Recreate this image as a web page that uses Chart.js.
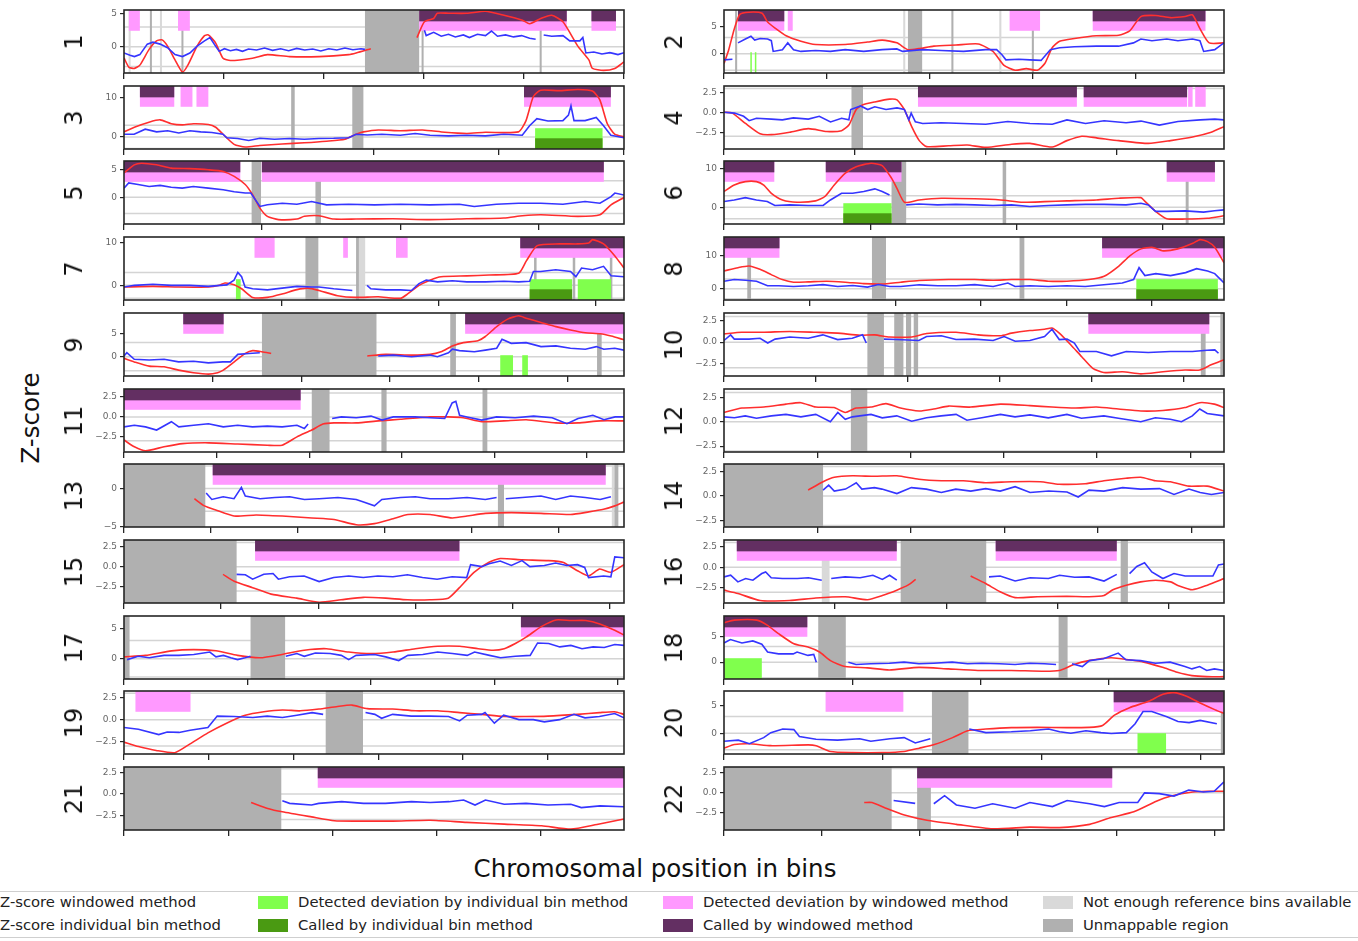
<!DOCTYPE html>
<html lang="en">
<head>
<meta charset="UTF-8" />
<title>Genome-wide Z-scores</title>
<script src="https://cdn.jsdelivr.net/npm/chart.js"></script>
<style>
  body { margin: 0; background: #fff; font-family: "DejaVu Sans", sans-serif; }
  #fig { position: relative; width: 1358px; height: 941px; overflow: hidden; }
  canvas { position: absolute; }
  .chrom { position: absolute; font-size: 24px; color: #111; transform: translate(-50%, -50%) rotate(-90deg); white-space: nowrap; }
  .axis-title { position: absolute; font-size: 24.5px; color: #111; white-space: nowrap; }
  .legend { position: absolute; left: -10px; top: 891px; width: 1370px; height: 45px; border: 1px solid #cfcfcf; }
  .item { position: absolute; font-size: 14.8px; color: #222; white-space: nowrap; }
  .sw { position: absolute; width: 30px; height: 13px; }
</style>
</head>
<body>
<div id="fig">
  <div class="axis-title" style="left:30px;top:418px;transform:translate(-50%,-50%) rotate(-90deg);">Z-score</div>
  <div class="axis-title" style="left:655px;top:868px;transform:translate(-50%,-50%);">Chromosomal position in bins</div>
  <div class="legend"></div>
  <div class="item" style="left:0;top:893px;">Z-score windowed method</div>
  <div class="item" style="left:0;top:916px;">Z-score individual bin method</div>
  <div class="sw" style="left:258px;top:896px;background:#80ff4d;"></div>
  <div class="item" style="left:298px;top:893px;">Detected deviation by individual bin method</div>
  <div class="sw" style="left:258px;top:919px;background:#4a9a12;"></div>
  <div class="item" style="left:298px;top:916px;">Called by individual bin method</div>
  <div class="sw" style="left:663px;top:896px;background:#ff99ff;"></div>
  <div class="item" style="left:703px;top:893px;">Detected deviation by windowed method</div>
  <div class="sw" style="left:663px;top:919px;background:#632f62;"></div>
  <div class="item" style="left:703px;top:916px;">Called by windowed method</div>
  <div class="sw" style="left:1043px;top:896px;background:#d9d9d9;"></div>
  <div class="item" style="left:1083px;top:893px;">Not enough reference bins available</div>
  <div class="sw" style="left:1043px;top:919px;background:#b0b0b0;"></div>
  <div class="item" style="left:1083px;top:916px;">Unmappable region</div>
</div>

<script>
// chromosomes 1..22, lengths in bins
const chromNames = ['1','2','3','4','5','6','7','8','9','10','11','12','13','14','15','16','17','18','19','20','21','22'];
const chromLength = [249,243,198,191,181,171,159,146,141,136,135,134,115,107,103,90,81,78,59,63,48,51];
const tickStep = [50,50,50,50,50,50,50,25,25,25,25,25,20,20,20,20,20,20,10,20,10,10];
const yMin = [-4,-3.5,-3.1,-4.6,-4.9,-4.4,-3.4,-3.4,-4.1,-3.95,-4.4,-3.1,-5.1,-3.15,-4.5,-4.3,-3.35,-3.25,-3.9,-3.75,-4.25,-4.6];
const yMax = [5.6,8,13.1,3.3,6.6,12.1,11.2,15.7,9.3,3.4,3.5,3.35,3.25,3.25,3.3,3.3,7.05,8.9,3.25,7.6,3.2,3.2];
const yTicks = [
  [0,5],[0,5],[0,10],[-2.5,0,2.5],[0,5],[0,10],[0,10],[0,10],[0,5],[-2.5,0,2.5],[-2.5,0,2.5],
  [-2.5,0,2.5],[-5,0],[-2.5,0,2.5],[-2.5,0,2.5],[-2.5,0,2.5],[0,5],[0,5],[-2.5,0,2.5],[0,5],[-2.5,0,2.5],[-2.5,0,2.5]
];

// windowed method z-scores [bin, z]; null = gap
const windowedZ = [
  [[0,-1.7],[2.4,-3.1],[5.2,-3.3],[7.9,-2.8],[12.5,-0.4],[16.2,0.9],[19,1.05],[21.7,0.1],[25.4,-2],[29.1,-3.85],[31.8,-2.8],[36.4,0.1],[40.1,1.7],[42,1.8],[45.6,0.6],[49.3,-1.75],[53,-2.1],[64,-1.75],[71.4,-1.2],[82.4,-1.5],[97.2,-1.5],[111.9,-1.2],[115.6,-0.95],[122.9,-0.3],[130,null],[145.9,1.4],[149.6,3.8],[154.2,4.3],[156,5.1],[161.6,5.1],[170.8,5.1],[180,5.4],[189.2,4.8],[198.4,4.05],[202,3.5],[207.5,4.3],[213,4.8],[218.6,3.8],[226,0.1],[231.5,-2],[233.3,-3.3],[238.8,-3.6],[244.4,-3.3],[249,-2.3]],
  [[0,-1.77],[2.3,0.76],[5,4.55],[7.7,7.2],[12.2,7.6],[18.5,7.4],[21.2,5.8],[24.8,4.7],[30.2,3.3],[37.4,2.3],[44.5,1.7],[58.9,1.7],[69.7,2.15],[76.9,2.5],[84,2],[89.4,0.76],[94.8,0.95],[102,1.4],[112.8,1.6],[123.6,1.8],[130.7,0.44],[136.1,-2.1],[141.5,-3],[146.9,-2.7],[152.3,-3],[155.9,-1.77],[159.5,1.1],[163.1,2.3],[170.3,2.8],[181,3.3],[191.8,3.4],[197.2,4.2],[202.6,6.8],[209.8,7],[217,6.6],[224.1,6.8],[227.7,7.1],[231.3,4.6],[235.8,2],[243,2]],
  [[0,1.3],[4.1,2.5],[9.9,3.8],[14.3,4.4],[18.7,3.4],[23.1,3.1],[27.5,3.4],[33.4,3.2],[36.3,2.5],[39.2,0.7],[43.6,-1.9],[48,-2.6],[53.8,-2.2],[62.6,-1.8],[71.4,-1.5],[80.2,-1.1],[87.5,-0.6],[91.9,0.7],[94.8,1.3],[100.7,1.8],[109.4,1.6],[118.2,1.8],[127,1.2],[135.8,0.9],[143.1,1.2],[156.2,1.3],[159.2,4.2],[162.1,10.4],[165,12],[172.3,11.9],[179.7,12.2],[185.5,11.8],[188.4,9.6],[191.4,3.4],[194.3,0.7],[198,0]],
  [[0,0],[3.2,-0.1],[8.2,-1.4],[13.8,-2.7],[18.1,-2.8],[25.1,-2.5],[32.2,-2.05],[39.3,-2.4],[44.9,-2.3],[47.7,-1.6],[50.5,0.35],[52.7,0.9],[57.6,1.3],[63.3,1.65],[66.1,1.55],[68.9,0.35],[71.7,-1.8],[74.6,-3.55],[77.4,-4.3],[85.8,-4.2],[92.9,-4.1],[100,-4.4],[109.9,-4],[116.9,-3.9],[125.4,-4.35],[131,-3.55],[136.7,-3],[142.3,-3.2],[150.8,-3.55],[162.1,-3.9],[170.6,-3.55],[179,-3.1],[186.1,-2.5],[191,-1.8]],
  [[0,4.4],[3.7,5.9],[6.4,6.2],[11.8,5.9],[17.1,5.3],[23.8,5.2],[30.5,5],[35.9,4.7],[39.9,3.8],[43.9,2.3],[46.6,0.4],[49.2,-2],[51.9,-3.5],[55.9,-4.1],[62.6,-4],[65.3,-3.5],[70.6,-3.4],[76,-4],[84,-4],[97.3,-3.95],[110.7,-4.1],[124.1,-3.95],[137.5,-3.8],[144.2,-3.4],[150.9,-3.2],[164.3,-3.5],[172.3,-3.2],[176.3,-1.4],[181,-0.06]],
  [[0,4.1],[3.5,5.8],[7.3,6.7],[11.1,6.7],[13.6,5.8],[16.2,3.65],[20,1.9],[25,1.3],[31.3,1.65],[34.5,2.8],[37.7,5.8],[41.5,8.9],[45.2,10.6],[50.3,11.5],[54.1,10.9],[57.3,7.6],[59.1,5],[61.7,1.3],[66.7,1.9],[74.3,2.35],[85.7,2.2],[94.6,1.9],[102.2,1.3],[109.7,1.45],[117.3,1.65],[127.4,1.9],[135,2.35],[142.6,2.5],[143.8,1.65],[147.6,-1.1],[151.4,-3],[157.7,-3.1],[165.3,-2.9],[171,-2.25]],
  [[0,-0.4],[9.2,-0.25],[17.4,-0.4],[26.8,-0.4],[30.3,0],[32.1,0.55],[35,0.15],[37.4,-0.8],[40.9,-2.8],[45.6,-2.8],[50.3,-2],[55,-1],[58.5,-0.65],[62,-1.2],[67.9,-2.4],[73.8,-2.8],[80.8,-2.65],[87.9,-3],[90.2,-2],[93.8,0],[97.3,1.2],[100.8,2],[109,2.2],[116.1,2.4],[125.5,2.8],[127.9,5.6],[131.4,9.2],[138.5,9.6],[144.3,9.6],[147.8,9.8],[149,10.6],[152.5,9.6],[156.1,6.8],[159,4]],
  [[0,5.4],[4.1,6.4],[7.3,6.9],[10.5,5.9],[13.8,4.3],[17,2.8],[20.3,2],[24.6,2.1],[30,2.3],[35.4,2],[40.8,1.55],[46.2,1.45],[51.6,2],[57,2.5],[65.6,2.8],[73.2,2.8],[78.6,2.6],[84,2.8],[89.3,2.8],[94.7,2.3],[100.1,2.3],[106.6,2.8],[111,3.8],[115.3,6.9],[118.5,10],[121.8,12.1],[125,12.6],[128.2,11.5],[132.5,12.1],[136.9,13.8],[139,14.9],[141.2,14.3],[143.3,12.6],[146,7.9]],
  [[0,-0.35],[2.9,-1.1],[7.1,-2],[11.3,-2.15],[15.4,-2.85],[19.6,-3.4],[23.8,-3.7],[26.4,-3.4],[28,-2.85],[31.1,-1.1],[34.2,0.7],[36.3,1.3],[38.9,1.05],[41.5,0.7],[42,null],[68.6,0.15],[73.8,0.5],[81.1,0.35],[86.3,0.5],[89.4,1.05],[92.6,2.3],[95.7,3],[99.8,3.4],[101.9,4.3],[105.1,6.4],[108.2,8],[111.3,8.7],[113.4,8.2],[117.6,7.3],[121.8,6.4],[125.9,5.7],[130.1,5.1],[134.3,4.9],[137.4,4.4],[141,3.6]],
  [[0,0.95],[4.8,1.15],[10.9,1.15],[17.9,1.25],[24.9,1.15],[30.9,1.05],[37,0.8],[41,0.85],[45,0.6],[51.1,0.6],[55.1,1],[63.1,1.15],[69.1,0.85],[75.2,0.75],[78.2,1.05],[83.2,1.35],[87.2,1.5],[89.2,1.65],[91.2,1.05],[94.3,-0.3],[97.3,-1.7],[100.3,-3.05],[103.3,-3.55],[108.4,-3.45],[113.4,-3.7],[119.4,-3.45],[125.4,-3.25],[129.4,-3.25],[132.5,-2.65],[136,-2.05]],
  [[0,-2.9],[2.8,-3.75],[5.8,-4.25],[10.8,-3.75],[15.8,-3.35],[22.8,-3.25],[30.7,-3.4],[38.7,-3.55],[42.7,-3.55],[46.7,-2.5],[50.7,-1.65],[53.7,-0.9],[56.7,-0.75],[62.7,-0.75],[68.7,-0.5],[74.6,-0.3],[82.6,0],[87.6,0],[91.6,-0.1],[96.6,-0.6],[102.6,-0.5],[108.6,-0.35],[116.6,-0.75],[122.6,-0.75],[128.6,-0.5],[135,-0.5]],
  [[0,0.95],[4.8,1.4],[10.7,1.5],[16.6,1.8],[20.6,1.95],[24.6,1.5],[29.5,1.45],[32.5,0.95],[35.4,1.4],[39.4,1.5],[43.4,1.85],[47.3,1.4],[52.3,1.1],[56.2,1.3],[60.2,1.6],[66.1,1.5],[74.1,1.8],[82,1.65],[87.9,1.5],[93.9,1.4],[99.8,1.5],[105.7,1.3],[111.7,1.1],[117.6,1.15],[123.5,1.45],[127.5,1.95],[131.4,1.8],[134,1.45]],
  [[16.2,-1.35],[18.5,-2.3],[21.1,-2.85],[25.3,-3.65],[30.4,-3.5],[36.4,-3.65],[43.2,-3.9],[48.3,-4.1],[53.4,-4.8],[57.6,-4.65],[61.9,-4],[65.3,-3.45],[70.4,-3.45],[75.5,-3.9],[78.9,-3.65],[83.1,-3.3],[89.1,-3.2],[95.9,-3.3],[102.7,-3.45],[106.9,-3.1],[110.3,-2.75],[112.9,-2.3],[115,-1.8]],
  [[18,0.6],[21.2,1.45],[23.6,1.9],[27.5,2.05],[32.2,2],[37,2.05],[41.7,1.7],[46.5,1.55],[51.2,1.55],[55.9,1.35],[61.5,1.45],[67.7,1.45],[71.7,1.2],[77.3,1.25],[81.3,1.55],[86,1.8],[89.2,1.9],[92.3,1.55],[95.5,1.45],[99.5,1],[103.4,1],[107,0.5]],
  [[20.4,-0.95],[22.7,-1.8],[26.5,-2.6],[30.3,-3.4],[35.6,-3.9],[40.2,-4.4],[44.7,-4.1],[49.3,-3.8],[53.9,-3.9],[58.4,-4.1],[63,-4.1],[66.8,-3.9],[69.1,-2.6],[72.1,-0.7],[75.2,0.55],[77.5,1],[82,0.85],[87.4,0.75],[90.4,0.55],[93.4,-0.5],[95.7,-1.15],[98,-0.3],[100.3,-0.7],[103,0.25]],
  [[0,-2.75],[2.5,-3.15],[6.5,-4],[11.8,-4],[16.5,-3.7],[21.8,-3.55],[25.8,-3.9],[28.5,-3.4],[31.1,-2.75],[33.1,-2.15],[34.5,-1.45],[35,null],[44.4,-1.05],[47.1,-1.95],[49.7,-2.95],[52.4,-3.65],[56.4,-3.55],[61.7,-3.5],[65.7,-3.55],[68.4,-3.4],[70,-2.7],[72.4,-2.15],[75,-1.75],[77.7,-1.55],[80.4,-1.75],[81.6,-2.15],[84.3,-2.7],[87,-2.15],[90,-1.35]],
  [[0,0.3],[3.5,0.55],[7.7,1.3],[11.3,1.5],[14.9,1.3],[18.4,0.55],[22,0.15],[25.6,0.7],[29.2,1.4],[32.8,1.65],[36.4,1.1],[40,0.85],[43.6,1.1],[47.2,1.65],[50.8,2.05],[54.4,2.05],[57.4,1.65],[59.8,1.4],[61.6,1.65],[63.4,2.5],[65.2,3.6],[67.6,5.3],[70,6.4],[72.4,6.3],[74.8,6.3],[77.2,5.7],[79.5,4.7],[81,3.9]],
  [[0,7.6],[1.6,8.1],[5.1,8.1],[6.8,7.1],[8.5,5.5],[10.9,3.55],[13.1,2.9],[14.9,1.95],[16.6,0.3],[18.9,-0.85],[22.4,-1.1],[25.8,-1.5],[30.4,-1],[35,-1.3],[39.6,-1.6],[44.8,-1.6],[50,-1.75],[52.3,-1.6],[54.6,-0.45],[56.9,0.3],[60.4,0.85],[63.2,0.45],[65.5,0],[68.4,-1],[70.7,-1.95],[73,-2.6],[75.3,-2.8],[78,-2.8]],
  [[0,-2.55],[1.7,-3.05],[3.8,-3.5],[6,-3.75],[7.8,-2.75],[9.9,-1.5],[12.1,-0.4],[14.3,0.5],[16.5,0.9],[18.7,1.1],[20.8,1],[23,1.2],[25.2,1.5],[26.9,1.65],[28.7,1.25],[31.7,1.2],[34.4,1],[37,1],[39.6,0.8],[42.2,0.6],[44.8,0.35],[47.4,0.35],[50,0.4],[53.5,0.6],[56.1,0.8],[57.9,0.9],[59,0.6]],
  [[0,-2.7],[1.3,-2.05],[3.2,-1.9],[5.9,-2.25],[10.6,-2.1],[11.6,-2.25],[13.4,-3.3],[16.2,-3.5],[19.9,-3.5],[22.7,-3.3],[24.6,-2.7],[26.5,-2.05],[28.8,-0.8],[30.7,0.45],[33,0.75],[36.2,1],[39.5,1.05],[43.2,1],[46,1.05],[47.7,1.4],[49.2,3.25],[51.1,4.6],[53.5,5.75],[55.3,7],[56.7,7.3],[58.2,6.7],[60,5.45],[61.9,4.2],[63,3.55]],
  [[12.2,-1],[13.8,-1.7],[15.2,-2.1],[18,-2.7],[20.2,-3.15],[22.3,-3.2],[25.8,-3.2],[29.4,-3.1],[32.9,-3.35],[36.5,-3.55],[40.1,-3.75],[42.9,-4.15],[45.4,-3.6],[48,-2.95]],
  [[14.3,-1.2],[15.1,-1.2],[16.5,-1.9],[18.4,-2.75],[20.7,-3.4],[23.7,-3.9],[27.4,-4.45],[31.2,-4.25],[34.2,-4.3],[37.3,-3.9],[39.5,-3.05],[41.8,-2.35],[44.1,-1.05],[45.6,-0.4],[47.8,0.1],[49.3,0.2],[51,0.2]]
];

// individual bin method z-scores [bin, z]
const binZ = [
  [[0,-0.95],[3,-1.3],[5.2,-1.5],[7.9,-1.2],[11.6,0.4],[14.4,0.7],[18,0.4],[21.7,-0.15],[25.4,-1.2],[29.1,-1.5],[32.8,-0.95],[36.4,0.1],[40.1,0.9],[42.8,1.4],[45.6,0.1],[47.4,-0.7],[50,-0.3],[53,-0.6],[56,-0.4],[59,-0.7],[62,-0.35],[66,-0.5],[70,-0.2],[74,-0.55],[78,-0.3],[82,-0.6],[86,-0.25],[90,-0.5],[94,-0.35],[98,-0.65],[102,-0.3],[106,-0.5],[110,-0.2],[114,-0.45],[118,-0.3],[120,-0.4],[121,null],[149.6,2.5],[150.5,1.7],[154.2,2.2],[158,1.6],[161.6,1.9],[165,1.5],[169,1.8],[172,1.4],[176,1.9],[180,1.7],[183,2.4],[186,1.6],[190,1.8],[194,1.5],[198,1.7],[202,1.3],[205,1.15],[206,null],[209,1.8],[213,1.6],[218.6,1.7],[222,0.9],[227,0.9],[228.5,1.4],[230,-0.95],[234,-0.8],[238,-1.1],[242,-0.9],[246,-1.2],[249,-0.9]],
  [[0,-1.1],[4.1,-1],[4.6,null],[6.8,2],[10.4,2.7],[13.1,3.2],[14.9,2.5],[17.6,2.8],[21.2,2.7],[23,2.4],[23.9,0.44],[28.4,0.76],[31,2],[33.8,0.76],[37.4,0.44],[44.5,0.6],[51.7,0.44],[58.9,0.76],[67.9,0.44],[76.9,0.76],[84,0.9],[86.8,0.44],[96.5,0.76],[105.6,0.6],[116.4,0.44],[127.2,0.76],[132.5,0.76],[135.2,-0.2],[137,-1.1],[143.3,-1],[148.7,-1.1],[154.1,-1.2],[158.6,0.76],[163.1,1.1],[170.3,1.3],[181,1.4],[191.8,1.4],[199,2],[202.6,2.7],[208,2.4],[215.2,2.7],[220.6,2.4],[227.7,2.7],[231.3,2.4],[233.1,0.44],[238.5,0.76],[243,2]],
  [[0,0.7],[4,0.7],[8.4,2],[12.9,1.3],[17.3,1.6],[21.7,1],[26.1,1.6],[30.4,1.3],[34.8,1.15],[39.2,0.7],[40.7,-0.2],[45,-0.4],[49.4,-0.9],[53.8,-0.35],[59.6,-0.6],[65.5,-0.4],[71.4,-0.6],[77.2,-0.4],[83,-0.35],[89,-0.2],[91.9,0.7],[96.3,0.5],[102.1,0.7],[109.4,0.45],[115.3,0.9],[121.2,0.45],[128.5,0.27],[135.8,0.45],[143.1,0.27],[150.4,0.7],[157.7,0.45],[160.6,2.9],[163.5,4.7],[167.9,4.1],[173.8,4.2],[176,5.6],[177,8],[178.2,4.2],[182.6,4.2],[187,5],[189.9,2.9],[192.8,0.45],[198,-0.2]],
  [[0,0],[4,-0.1],[7.5,-0.5],[9.6,-1.05],[12.4,-0.75],[18.1,-0.85],[22.3,-0.95],[26.5,-0.7],[32.2,-0.85],[36.4,-0.5],[40.7,-1.2],[44.9,-0.75],[47.7,-0.95],[48.4,0.35],[52.2,0.8],[54.9,0.35],[57.6,0.7],[61.9,0.35],[66.1,0.55],[68.9,0.35],[70.6,-0.95],[71.5,-0.1],[73.1,-1.2],[75.9,-1.4],[83,-1.3],[91.5,-1.4],[100,-1.5],[108.4,-1.15],[116.9,-1.4],[125.4,-1.5],[131,-0.95],[138.1,-1.4],[145.2,-1.05],[153.6,-1.3],[159.3,-1.1],[166.3,-1.6],[173.4,-1.15],[181.9,-0.95],[187.5,-0.85],[191,-0.95]],
  [[0,1.65],[1.7,2.6],[5.1,2.3],[9.1,1.95],[13.1,2.15],[17.1,1.8],[21.1,1.65],[25.1,1.95],[30.5,1.65],[35.9,1.35],[39.9,1],[43.9,0.75],[45.9,0.75],[49.2,-1.7],[51.9,-1.4],[57.3,-1.1],[62.6,-1.3],[67.9,-0.8],[73.3,-1.4],[81.3,-1.3],[90.7,-1.4],[100,-1.3],[110.7,-1.4],[121.4,-1.3],[126.8,-1.7],[134.8,-1.3],[142.8,-1.1],[150.9,-1.1],[158.9,-1.3],[166.9,-0.8],[172.3,-1.1],[176.3,0.1],[177.7,0.75],[181,0.4]],
  [[0,1.5],[3.5,1.9],[7.3,2.5],[11.1,1.9],[14.8,1.5],[17.4,0.45],[22.5,0.6],[28.8,0.45],[33.9,0.45],[36.4,1.9],[40.2,3.65],[44,3.65],[47.8,4.1],[51.6,4.8],[54.1,4.1],[56.6,3.2],[57.5,null],[62.3,0.6],[66.7,0.85],[73,0.6],[79.3,0.75],[85.7,0.6],[92,0.45],[98.3,0.6],[104.6,0.2],[111,0.45],[117.3,0.6],[123.6,0.75],[130,0.75],[137.5,0.6],[142.6,1.05],[145.1,0.6],[147.6,-1.1],[151.4,-1.1],[157.7,-0.95],[164,-1.3],[167.8,-0.95],[171,-0.7]],
  [[0,-0.4],[3.3,0],[9.2,0.25],[15,0],[20.9,0],[26.8,-0.25],[32.7,0.1],[35,1.2],[36.2,3],[37.4,2],[38.5,-0.4],[40.9,-0.8],[45.6,-1.05],[50.3,-0.65],[55,-0.25],[59.7,-0.4],[62,-0.4],[66.7,-0.8],[72.6,-1.2],[73.5,null],[77.3,0],[78.5,-0.8],[83.2,-1.05],[87.9,-1.05],[91.4,-1.2],[93.8,0.4],[96.1,1.2],[99.7,0.8],[104.4,1.05],[109,0.8],[115,0.8],[120.8,0.95],[125.5,0.8],[129,0.95],[130.2,3.2],[132.5,3.2],[137.3,3.6],[142,3.2],[143.7,2],[145.5,4],[149,3.6],[152.5,4.4],[154.9,2.2],[159,2]],
  [[0,2.3],[3,2.8],[6.3,2.6],[9.5,2.3],[12.7,0.9],[16,0.9],[20.3,0.7],[24.6,0.9],[28.9,1.25],[33.2,0.7],[37.6,1],[41.9,0.5],[45.1,1.3],[48.4,0.7],[51.6,0.7],[57,1.2],[62.4,0.9],[67.8,0.9],[73.2,1.25],[78.6,0.7],[82.9,1.75],[85,0.7],[89.3,0.9],[94.7,0.7],[100.1,0.9],[105.5,0.7],[110.9,1.2],[116.3,1.75],[119.6,2.8],[121.2,6.4],[122.9,4],[126.1,4.6],[130.4,4],[134.8,4.9],[138,6.1],[141.2,5.4],[143.3,4.6],[146,1.75]],
  [[0,0.15],[0.8,0.85],[2.9,-0.55],[7.1,-0.7],[11.3,-0.55],[15.4,-1.1],[19.6,-0.95],[23.8,-1.3],[27.9,-1.1],[30,-1.1],[32.1,0.5],[35.2,0.7],[38.3,0.85],[38.9,null],[71.7,0.15],[75.9,0.35],[81.1,0],[86.3,0.35],[88.4,0],[91.5,0.85],[92.6,1.6],[94.6,1.3],[98.8,1.05],[101.9,1.4],[105.1,1.8],[106.6,3.7],[109.2,2.85],[113.4,3],[117.6,2.15],[121.8,2.3],[125.9,1.8],[130.1,1.6],[133.2,2.15],[135.3,1.6],[138.4,1.8],[141,1.4]],
  [[0,0.2],[1.8,0.85],[2.8,0.35],[6.8,0.35],[9.8,0.45],[11.9,-0.1],[13.9,0.35],[17.9,0.6],[22.9,0.45],[26.9,0.85],[30.9,0.3],[34.9,0.45],[37.7,0.85],[38.7,-0.1],[39,null],[43.5,0.35],[47,0.3],[53,0.2],[55.1,0.65],[59.1,0.75],[63.1,0.3],[68.1,0.35],[73.2,0.2],[76.2,0.65],[79.2,0.1],[83.2,0.2],[87.2,0.65],[89.2,1.5],[91.2,0.3],[93.3,0.35],[95.3,-0.1],[96.8,-1.1],[101.3,-1.1],[105.4,-1.6],[109.4,-1.1],[115.4,-1.2],[121.4,-1.1],[127.4,-1.1],[131.4,-0.95],[133.5,-0.9],[134.5,-1.3]],
  [[0,-1.25],[2.8,-1.05],[5.8,-1.25],[8.8,-1.65],[12.8,-0.6],[14.8,-1.25],[18.8,-1.05],[22.8,-0.85],[26.8,-1.25],[30.7,-1.05],[34.7,-1.25],[38.7,-1.15],[42.7,-1.25],[46.7,-1.05],[48.7,-1.45],[49.7,-0.9],[50.5,null],[56.2,-0.2],[58.7,0],[62.7,-0.1],[66.7,0.1],[69.7,-0.4],[72.7,0],[78.6,0],[82.6,-0.1],[86.6,-0.2],[88.6,1.75],[89.6,1.95],[90.6,0.2],[92.6,0],[96.6,-0.4],[100.6,0],[105.6,-0.1],[110.6,0.1],[115.6,-0.1],[119.6,-0.85],[122.6,-0.2],[126.6,0.2],[129.6,-0.35],[132.6,0],[135,0]],
  [[0,0.5],[2.8,0.4],[5.7,0.6],[8.7,0.35],[12.7,0.6],[16.6,0.75],[20.6,0.5],[24.6,0.75],[28.5,0],[30.5,0.95],[32.5,0.25],[34.4,0.5],[39.4,0.75],[42.4,0.4],[46.3,0.6],[50.3,0.05],[54.3,0.4],[58.2,0.6],[62.2,0.75],[65.1,0.15],[69.1,0.4],[74.1,0.75],[78,0.5],[82,0.7],[86.9,0.4],[91.9,0.75],[95.8,0.35],[101.8,0.6],[105.7,0.35],[111.7,0],[115.6,0.4],[119.6,0.25],[122.6,0],[125.5,0.6],[127.5,1.3],[129.5,0.85],[134,0.6]],
  [[18.9,-0.6],[20.2,-1.45],[22.8,-1.1],[25.3,-1.35],[27,0.15],[27.9,-1],[31.3,-1.35],[34.7,-1.2],[38.1,-1.1],[41.5,-1.45],[44.9,-1.35],[49.2,-1.2],[53.4,-1.45],[55.1,-1.8],[57.6,-2.3],[59.3,-1.45],[63.6,-1.2],[67,-1.1],[70.4,-1.35],[74.6,-1.35],[78.9,-1.2],[83.1,-1.45],[85.7,-1.2],[86.5,null],[87.8,-1.35],[91.6,-1.2],[95.9,-1],[99.3,-1.45],[102.7,-1],[106.1,-1.2],[109.5,-1.45],[112,-1.1]],
  [[21.2,0.6],[22.4,1.1],[23.6,0.5],[26,0.7],[27.1,1],[28.3,1.35],[29.5,0.7],[32.2,0.85],[33.8,0.7],[37,0.25],[40.1,0.85],[43.3,0.7],[46.5,0.35],[49.6,0.7],[52.8,0.5],[56,0.75],[59.1,0.5],[62.3,0.95],[65.5,0.35],[69.5,0.5],[73.4,0.4],[75.8,-0.1],[78.1,0.6],[81.3,0.5],[85.3,0.85],[89.2,0.7],[93.2,0.75],[96.3,0.15],[99.5,0.7],[101.9,0.35],[104.3,0.15],[107,0.35]],
  [[23.2,-0.95],[25,-1],[26.5,-1.55],[28.8,-0.95],[30.7,-0.85],[31.8,-1.55],[34.1,-1.25],[37.1,-1.15],[40.2,-1.85],[43.2,-1.35],[46.3,-1.15],[49.3,-1.35],[52.3,-1.15],[55.4,-1.25],[58.4,-1],[61.5,-1.35],[64.5,-1.55],[67.6,-1.25],[70.6,-1.35],[71.4,0.25],[73.7,0],[75.2,0.35],[77.5,0.7],[79.8,0.15],[82,0.75],[83.6,0],[86.6,0.15],[88.9,0.45],[91.2,0.15],[93.4,0.25],[94.9,-0.1],[95.7,-1.35],[98.8,-1.15],[100.3,-1.25],[101.1,1.2],[103,1.1]],
  [[0,-1.15],[1.2,-0.95],[2.5,-1.75],[3.9,-1.35],[5.2,-1.55],[6.8,-0.75],[7.5,-0.55],[8.5,-1.25],[10.5,-1.35],[13.2,-1.35],[15.2,-1.25],[17.6,-1.55],[18,null],[19.3,-1.35],[21.8,-1.15],[24.5,-1.25],[26.8,-0.95],[28.5,-1.45],[29.8,-0.95],[31.1,-1.55],[31.5,null],[47.7,-1.15],[49.7,-1.05],[52.4,-1.65],[55.1,-1.25],[58.4,-1.35],[60.4,-0.95],[63.1,-1.2],[65.7,-1.15],[68.4,-1.65],[70.7,-0.85],[71,null],[73,-0.75],[74.3,0.1],[75.7,0.55],[77,-0.55],[79,-1.35],[81,-0.75],[83,-1.05],[85.7,-1.05],[88,-1.05],[89,0.3],[90,0.4]],
  [[0.5,-0.15],[2.3,0.4],[4.1,0.15],[6.5,0.55],[8.9,0.55],[11.3,0.7],[13.9,1.1],[14.9,0.3],[16.1,0.55],[17.3,0.15],[18.4,-0.15],[19.6,0.15],[20.5,0.4],[20.6,null],[26.2,0.4],[28,0.85],[29.2,0.4],[31,0.95],[33.4,0.85],[35.2,0.55],[36.4,-0.15],[37.6,0.55],[40.6,0.7],[42.4,0.3],[44.5,-0.3],[46,0.55],[48.4,0.7],[50.8,1.1],[53.2,0.85],[55.6,0.55],[56.8,1.1],[59.2,0.55],[61,0.15],[63.4,0.4],[65.8,0.55],[67,2.6],[68.8,2.5],[70.6,1.95],[72.4,2.2],[74.2,1.65],[76,1.95],[77.8,1.85],[79.5,2.35],[81,2.2]],
  [[0,3.7],[1,4.35],[2.8,3.7],[4.5,4.1],[5.9,3.45],[6.8,1.95],[8.5,1.6],[10.8,1.6],[11.4,1.95],[13.1,1.3],[14,1.5],[14.4,0],[14.5,null],[19.4,0],[20.6,-0.45],[22.9,-0.3],[25.8,-0.2],[28.1,0],[30.4,-0.3],[32.7,-0.2],[35.6,0],[38,-0.3],[40.2,-0.2],[43,-0.3],[45.4,-0.45],[47.7,-0.2],[50,-0.3],[51.8,-0.45],[52,null],[54.3,-0.3],[55.9,-0.85],[57,0.3],[59.2,0.65],[61.5,1.75],[62.7,0.45],[65,0.3],[67.3,-0.2],[69.6,0],[71.9,-0.85],[73,-1.3],[74.2,-0.85],[75.3,-1.6],[76.5,-1.3],[78,-1.6]],
  [[0,-0.9],[1.7,-1.1],[4.1,-1.7],[5.1,-1.4],[6.5,-1.45],[7.8,-1.2],[9.9,-0.9],[11,0.4],[13,0.35],[15.2,0.25],[16.9,0.4],[18.7,0.25],[20.4,0.5],[22.2,0.8],[23.5,0.6],[23.8,null],[28.5,0.8],[29.6,0.6],[30.4,0.15],[31.7,0.6],[33.9,0.4],[36.1,0.4],[38.3,0.35],[39.6,-0.15],[40.5,0.5],[42.2,0.6],[42.6,0.8],[43.7,-0.4],[44.8,0.5],[46.6,0],[48.3,0],[49.6,-0.25],[51.4,0],[53.1,0.6],[54.4,0.2],[56.1,0.35],[57.9,0.7],[59,0.2]],
  [[0,-1.45],[1.8,-1.25],[3.2,-1.9],[5,-0.8],[5.9,0.1],[7.4,0.75],[8.8,0.65],[9.5,-0.6],[11.6,-1.1],[14.3,-1.25],[17.1,-1],[18.5,-1.45],[20.9,-1],[22.7,-0.8],[24.1,-1.75],[26,-1],[26.2,null],[30.9,0.75],[33,0.1],[36.2,0.25],[38.6,0.45],[40.9,0.75],[42.3,0.25],[43.7,0],[45.6,0.45],[47.5,0.1],[48.8,-0.05],[50.7,0.1],[51.8,1.7],[52.8,3.9],[53.9,3.9],[55.8,2.95],[57.2,2.1],[58.6,1.9],[60,2.3],[62.1,1.7]],
  [[15.2,-0.8],[15.9,-1.1],[18,-1.3],[18.7,-1.1],[20.9,-0.9],[23,-1.1],[25.1,-1.1],[27.6,-0.9],[29.4,-1],[31.2,-0.9],[32.6,-0.7],[33.7,-1.3],[34.7,-0.7],[36.5,-1.2],[38.6,-1.1],[40.7,-1.3],[42.9,-1.2],[43.9,-1.6],[45.7,-1.4],[48,-1.5]],
  [[17.3,-0.95],[19.5,-1.3],[19.6,null],[21.4,-1.35],[22.5,-0.35],[23.7,-1.5],[25.6,-1.9],[27.4,-1.35],[29.7,-1.9],[31.2,-1.2],[33.5,-1.7],[35,-0.95],[37.3,-1.35],[38.8,-1.7],[40.3,-1.2],[42.2,-1.2],[42.9,0],[44.4,-0.1],[45.9,-0.4],[47.4,0.35],[48.9,0.1],[50,0.2],[51,1.35]]
];

// shaded bin ranges [start, end]
const unmappable = [
  [[12.9,13.9],[28.6,29.6],[120,147],[148.2,149.2],[207,208]],
  [[5.4,6.4],[89.4,96.3],[110.5,111.5],[149.6,150.6]],
  [[66.2,67.6],[90.4,94.8]],
  [[48.7,53.1]],
  [[46.2,49.6],[69.3,71.3]],
  [[57.3,62.3],[95.3,96.5],[157.9,158.9]],
  [[57.7,61.8],[73.8,74.7],[130.4,131.2],[142.7,143.5],[154.5,155.3]],
  [[6.8,7.9],[43.2,47.3],[86.3,87.7]],
  [[38.9,71.2],[92,93.6],[133.4,134.7]],
  [[39,43.5],[46.3,48.8],[49.5,50.9],[51.6,52.8],[129.7,131],[135,136]],
  [[50.7,55.5],[69.5,70.9],[96.8,98.1]],
  [[34,38.4]],
  [[0,18.7],[86,87.4],[112.8,113.7]],
  [[0,21.2]],
  [[0,23.2]],
  [[31.8,47.2],[71.4,72.7]],
  [[0,0.9],[20.5,26.1]],
  [[14.7,19],[52.2,53.6]],
  [[23.8,28.2]],
  [[26.2,30.8],[62.6,63]],
  [[0,15.1]],
  [[0,17.1],[19.7,21.1]]
];
const lowRef = [
  [[2.3,3.3],[17.9,18.9]],[[87.1,88.1],[133.8,134.8]],[],[],[],[],[[74.7,76.7]],[],[],[],[],
  [],[[112.2,112.8]],[],[],[[17.6,19]],[],[],[],[],[],[]
];
const windowDetected = [
  [[2.4,7.9],[26.9,32.8],[147,220.5],[232.8,245]],
  [[6.8,29.3],[31,33.4],[138.8,153.6],[179.2,234]],
  [[6.3,19.9],[22.4,27.1],[28.7,33.4],[158.4,192.8]],
  [[74.1,134.8],[137.4,176.9],[177.3,179],[180,184]],
  [[0,42.1],[49.9,173.7]],
  [[0,17.2],[34.8,60.7],[151.4,167.9]],
  [[41.5,47.9],[69.7,71.2],[86.5,90.2],[126,159]],
  [[0,16.2],[110.4,146]],
  [[16.7,28.1],[96.2,141]],
  [[99.1,132]],
  [[0,47.7]],
  [],
  [[20.4,110.8]],
  [],
  [[27,69.1]],
  [[2.3,31.1],[48.9,70.7]],
  [[64.3,81]],
  [[0,13]],
  [[1.35,7.85]],
  [[12.8,22.6],[49.1,63]],
  [[18.6,48]],
  [[19.7,39.6]]
];
const windowCalled = [
  [[147,220.5],[232.8,245]],
  [[6.8,29.3],[179.2,234]],
  [[6.3,19.9],[158.4,192.8]],
  [[74.1,134.8],[137.4,176.9]],
  [[0,42.1],[49.9,173.7]],
  [[0,17.2],[34.8,60.7],[151.4,167.9]],
  [[126,159]],
  [[0,16.2],[110.4,146]],
  [[16.7,28.1],[96.2,141]],
  [[99.1,132]],
  [[0,47.7]],
  [],
  [[20.4,110.8]],
  [],
  [[27,69.1]],
  [[2.3,31.1],[48.9,70.7]],
  [[64.3,81]],
  [[0,13]],
  [],
  [[49.1,63]],
  [[18.6,48]],
  [[19.7,39.6]]
];
const binDetected = [
  [],[[12.8,13.5],[15,15.7]],[[162.8,189.5]],[],[],[[40.8,57.3]],[[35.6,37.1],[129,142.5],[144.3,154.9]],
  [[120.4,144.2]],[[106.1,109.7],[112.3,113.9]],[],[],[],[],[],[],[],[],[[0,5.9]],[],[[52.1,55.7]],[],[]
];
const binCalled = [
  [],[],[[162.8,189.5]],[],[],[[40.8,57.3]],[[129,142.5]],[[120.4,144.2]],[],[],[],[],[],[],[],[],[],[],[],[],[],[]
];

const PANEL_W = 500, PANEL_H = 63, PAD_L = 44, PAD_R = 4, PAD_T = 3, PAD_B = 10;

const shadePlugin = {
  id: 'shade',
  beforeDatasetsDraw(chart) {
    const i = chart.options.plugins.shade.index;
    const { ctx, chartArea: a, scales: { x, y } } = chart;
    ctx.save();
    ctx.beginPath();
    ctx.rect(a.left, a.top, a.width, a.height);
    ctx.clip();
    // threshold lines
    ctx.strokeStyle = '#d4d4d4';
    ctx.lineWidth = 1.5;
    [-3, 0, 3].forEach(v => {
      if (v <= y.min || v >= y.max) return;
      const py = y.getPixelForValue(v);
      ctx.beginPath();
      ctx.moveTo(a.left, py);
      ctx.lineTo(a.right, py);
      ctx.stroke();
    });
    const band = (list, color, f0, f1) => {
      ctx.fillStyle = color;
      list.forEach(([s, e]) => {
        const x0 = x.getPixelForValue(s), x1 = x.getPixelForValue(e);
        const yTop = a.bottom - f1 * a.height, yBot = a.bottom - f0 * a.height;
        ctx.fillRect(x0, yTop, Math.max(x1 - x0, 1.5), yBot - yTop);
      });
    };
    band(lowRef[i], '#d9d9d9', 0, 1);
    band(unmappable[i], '#b0b0b0', 0, 1);
    band(windowDetected[i], '#ff99ff', 0.67, 1);
    band(windowCalled[i], '#632f62', 0.82, 1);
    band(binDetected[i], '#80ff4d', 0, 0.33);
    band(binCalled[i], '#4a9a12', 0, 0.17);
    ctx.restore();
  },
  afterDraw(chart) {
    const { ctx, chartArea: a } = chart;
    ctx.save();
    ctx.strokeStyle = '#262626';
    ctx.lineWidth = 1.6;
    ctx.strokeRect(a.left, a.top, a.width, a.height);
    ctx.restore();
  }
};

function fmtTick(list) {
  const dec = list.some(v => !Number.isInteger(v));
  return v => (dec ? v.toFixed(1) : String(v)).replace('-', '\u2212');
}

const fig = document.getElementById('fig');

chromNames.forEach((name, i) => {
  const col = i % 2, row = Math.floor(i / 2);
  const left = col ? 724 : 124;
  const top = Math.round(10 + row * 75.7);

  const canvas = document.createElement('canvas');
  canvas.width = PANEL_W + PAD_L + PAD_R;
  canvas.height = PANEL_H + PAD_T + PAD_B;
  canvas.style.left = (left - PAD_L) + 'px';
  canvas.style.top = (top - PAD_T) + 'px';
  fig.appendChild(canvas);

  const label = document.createElement('div');
  label.className = 'chrom';
  label.textContent = name;
  label.style.left = (left - 50) + 'px';
  label.style.top = (top + PANEL_H / 2) + 'px';
  fig.appendChild(label);

  const fmt = fmtTick(yTicks[i]);

  new Chart(canvas.getContext('2d'), {
    type: 'line',
    data: {
      datasets: [
        { label: 'Z-score individual bin method', data: binZ[i], borderColor: '#3535ff', borderWidth: 1.6, pointRadius: 0, tension: 0, spanGaps: false },
        { label: 'Z-score windowed method', data: windowedZ[i], borderColor: '#ff2e2e', borderWidth: 1.6, pointRadius: 0, tension: 0.2, spanGaps: false }
      ]
    },
    options: {
      responsive: false,
      animation: false,
      events: [],
      layout: { padding: { top: PAD_T, right: PAD_R, left: 0, bottom: 0 } },
      plugins: { legend: { display: false }, tooltip: { enabled: false }, shade: { index: i } },
      scales: {
        x: {
          type: 'linear',
          min: 0,
          max: chromLength[i],
          afterFit: s => { s.height = PAD_B; s.paddingLeft = 0; s.paddingRight = 0; },
          ticks: { stepSize: tickStep[i], includeBounds: false, autoSkip: false, callback: () => '', font: { size: 1 } },
          grid: { drawOnChartArea: false, drawTicks: true, tickLength: 6, color: '#262626', lineWidth: 1.3 },
          border: { display: false }
        },
        y: {
          min: yMin[i],
          max: yMax[i],
          afterFit: s => { s.width = PAD_L; s.paddingTop = 0; s.paddingBottom = 0; },
          afterBuildTicks: s => { s.ticks = yTicks[i].map(v => ({ value: v })); },
          ticks: { callback: v => fmt(v), color: '#666', font: { family: 'DejaVu Sans', size: 9 }, padding: 3 },
          grid: { drawOnChartArea: false, drawTicks: true, tickLength: 4, color: '#262626', lineWidth: 1.2 },
          border: { display: false }
        }
      }
    },
    plugins: [shadePlugin]
  });
});
</script>
</body>
</html>
